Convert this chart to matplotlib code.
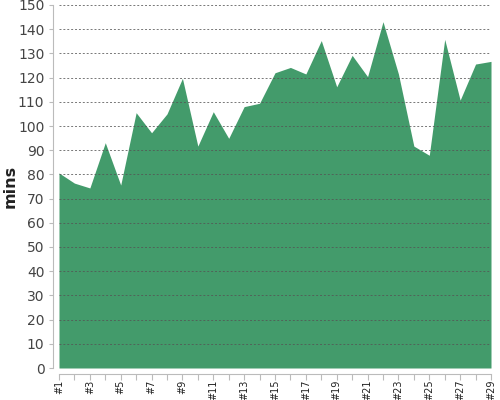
import matplotlib
matplotlib.use("Agg")
import matplotlib.pyplot as plt

labels = ["#%d" % i for i in range(1, 30)]
mins = [80.6, 76.4, 74.4, 93.1, 75.6, 105.5, 97.2, 105.0, 119.7, 91.7,
        105.9, 94.9, 108.0, 109.4, 122.0, 124.2, 121.5, 135.3, 116.2, 129.2,
        120.4, 143.1, 121.5, 91.7, 87.9, 135.8, 110.7, 125.6, 126.7]

x = list(range(1, len(mins) + 1))

fig = plt.figure(figsize=(5, 4), dpi=100)
ax = fig.add_axes([0.118, 0.08, 0.864, 0.9075])

ax.fill_between(x, mins, 0, color="#439b6b", linewidth=0, zorder=1)

ax.set_xlim(1, 29)
ax.set_ylim(0, 150)
ax.set_yticks(range(0, 151, 10))
ax.set_xticks(x)
ax.set_xticklabels([l if i % 2 == 0 else "" for i, l in enumerate(labels)])
ax.tick_params(axis="x", labelrotation=90, labelsize=7, labelcolor="#222222",
               length=4, color="#bbbbbb", pad=0.5)
ax.tick_params(axis="y", labelsize=10, labelcolor="#444444", length=3, color="#bbbbbb")

ax.grid(axis="y", linestyle=(0, (2, 2)), color="#555555", linewidth=0.7, alpha=0.8, zorder=2)
ax.set_axisbelow(False)

for s in ["top", "right"]:
    ax.spines[s].set_visible(False)
ax.spines["left"].set_color("#bbbbbb")
ax.spines["bottom"].set_color("#bbbbbb")
ax.spines["left"].set_position(("outward", 4))
ax.spines["bottom"].set_position(("outward", 4))

ax.set_ylabel("mins", fontsize=11.5, fontweight="bold", color="#222222")
ax.yaxis.set_label_coords(-0.095, 0.5)

fig.savefig("out.png", dpi=100)
